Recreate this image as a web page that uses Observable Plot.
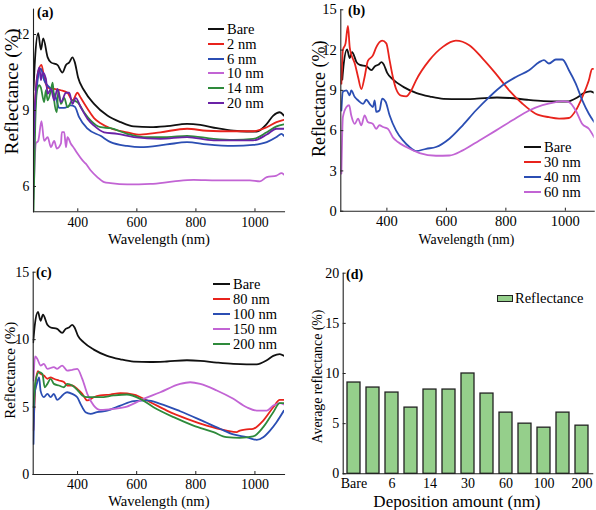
<!DOCTYPE html>
<html><head><meta charset="utf-8">
<script src="https://cdn.jsdelivr.net/npm/d3@7"></script>
<script src="https://cdn.jsdelivr.net/npm/@observablehq/plot@0.6"></script>
<style>
body{margin:0;background:#fff;}
#fig{position:relative;width:596px;height:510px;font-family:"Liberation Serif","DejaVu Serif",serif;color:#000;overflow:hidden;}
.panel{position:absolute;}
.row{position:absolute;display:flex;align-items:center;white-space:nowrap;height:16px;line-height:16px;}
.sw{display:inline-block;height:0;border-top:2.2px solid;margin-right:3px;}
.box{display:inline-block;box-sizing:border-box;border:1.3px solid #222;background:#95cf8b;margin-right:2px;}
.tag{position:absolute;font-weight:bold;font-size:14px;line-height:14px;}
</style></head><body><div id="fig"></div>
<script>
// ---------- data ----------
const xTicks = [400, 600, 800, 1000];
const colors = {black:"#111111", red:"#e8231c", blue:"#2b4eb3", orchid:"#c264d4", green:"#2e8a3b", purple:"#6a22a6"};

const bareWl = [250,255,266,275,283,298,309,331,348,360,371,382,390,401,421,455,500,545,590,646,702,770,815,871,927,972,1006,1040,1062,1084,1098];
const bareR  = [9.8,11.0,12.05,11.4,11.85,11.1,10.9,10.8,10.5,10.8,10.9,11.1,10.9,10.3,9.8,9.26,8.8,8.54,8.37,8.34,8.38,8.47,8.43,8.3,8.2,8.17,8.17,8.47,8.8,8.93,8.8];

// panel (a)
const a2Wl = [250,262,277,286,298,320,343,365,382,399,410,433,455,477,511,567,612,680,770,837,927,994,1040,1073,1098];
const a2R  = [8.3,10.3,10.8,10.3,9.9,9.85,9.8,9.7,9.4,9.7,9.5,9.07,8.7,8.5,8.3,8.14,8.05,8.14,8.28,8.2,8.18,8.18,8.34,8.54,8.63];
const a6Wl = [250,262,275,286,309,326,337,354,376,390,404,433,477,511,567,612,702,770,837,927,994,1040,1073,1090,1098];
const a6R  = [8.0,10.0,10.65,10.2,9.85,9.5,9.1,9.1,9.2,9.15,8.75,8.28,8.0,7.75,7.6,7.55,7.66,7.75,7.66,7.6,7.64,7.75,7.95,8.08,8.0];
const a10Wl = [250,258,266,277,286,298,309,320,329,343,346,354,360,365,376,388,399,416,427,444,466,489,511,567,646,725,792,871,983,1017,1040,1073,1090,1098];
const a10R  = [5.5,7.7,7.8,8.58,7.8,7.95,7.55,7.8,7.5,7.7,8.15,8.15,7.55,7.95,7.7,7.5,7.3,7.03,6.9,6.63,6.37,6.17,6.13,6.08,6.1,6.2,6.26,6.24,6.24,6.2,6.37,6.43,6.53,6.47];
const a14Wl = [250,256,262,270,275,286,292,298,309,315,320,329,334,343,354,365,382,399,421,444,477,511,567,624,702,770,860,927,994,1040,1073,1098];
const a14R  = [5.0,8.5,9.8,10.0,9.9,9.33,9.8,9.4,9.8,10.1,9.4,8.93,9.8,9.26,9.5,9.13,9.4,9.33,8.93,8.6,8.34,8.3,8.08,7.95,7.95,8.0,7.88,7.84,7.88,8.14,8.37,8.45];
const a20Wl = [250,258,270,275,281,292,298,309,320,331,343,360,371,382,393,410,433,455,489,534,590,680,770,860,927,994,1040,1073,1098];
const a20R  = [7.5,9.8,10.7,10.2,10.5,10.25,9.66,9.85,9.4,9.85,9.33,9.7,9.7,9.26,9.5,9.13,8.67,8.4,8.14,8.08,7.95,7.88,7.95,7.82,7.82,7.82,8.05,8.28,8.28];

// panel (b)
const b30Wl = [247,252,261,269,275,280,292,303,314,325,336,353,364,384,398,409,420,431,448,465,482,498,543,588,632,677,722,766,811,856,900,945,979,1012,1035,1057,1079,1090,1097];
const b30R  = [9.5,12.0,12.5,13.8,12.2,11.7,11.0,10.0,9.1,10.0,11.2,11.6,12.2,12.7,12.5,11.25,10.0,9.1,8.6,8.55,9.0,9.75,11.25,12.24,12.7,12.36,11.37,10.25,9.0,8.0,7.26,7.0,6.9,6.94,7.5,8.5,9.75,10.6,10.6];
const b40Wl = [247,252,264,275,280,292,303,320,331,342,353,359,364,375,384,396,409,431,454,476,498,532,565,610,655,699,744,789,834,878,912,928,945,968,990,1012,1035,1057,1079,1097];
const b40R  = [7.5,8.9,9.0,8.63,9.0,8.5,8.26,8.0,8.3,8.0,7.76,8.26,7.4,7.5,8.38,8.13,7.14,6.0,5.27,4.78,4.48,4.65,4.78,5.4,6.4,7.5,8.5,9.38,10.0,10.5,11.1,11.25,11.0,11.3,11.3,10.5,9.5,8.26,7.26,6.64];
const b60Wl = [247,252,264,273,280,292,303,314,325,336,353,364,375,387,403,420,437,465,510,565,610,655,711,766,822,878,923,968,990,1012,1035,1057,1079,1097];
const b60R  = [2.8,7.0,7.76,7.9,7.14,6.5,6.9,6.4,7.14,6.64,6.5,6.14,6.4,6.27,6.14,5.5,5.15,4.78,4.33,4.13,4.15,4.53,5.27,6.0,6.77,7.5,7.9,8.13,8.2,8.13,7.5,6.5,6.14,5.5];

// panel (c)
const c80Wl = [251,258,266,275,286,298,309,320,337,354,365,382,399,416,433,455,477,511,545,590,646,702,770,837,904,938,949,972,994,1028,1062,1084,1098];
const c80R  = [3.3,6.7,7.66,7.46,7.34,7.1,7.2,7.1,6.97,6.85,6.6,6.6,6.35,5.98,5.49,5.73,5.86,5.93,6.03,5.93,5.36,4.74,4.13,3.63,3.26,3.14,3.26,3.34,3.39,4.0,4.99,5.53,5.53];
const c100Wl = [251,255,262,270,275,286,298,309,320,331,343,354,365,382,399,410,427,444,466,500,545,590,635,680,747,815,882,927,972,1006,1028,1051,1073,1098];
const c100R  = [2.27,6.0,6.7,7.2,6.2,5.73,5.98,5.73,5.98,5.53,5.73,5.98,6.1,5.98,5.73,5.24,4.62,4.5,4.62,4.74,5.11,5.44,5.49,5.24,4.69,4.05,3.39,2.97,2.77,2.57,2.77,3.26,3.88,4.74];
const c150Wl = [251,256,264,275,286,298,320,331,348,365,382,399,416,433,455,477,522,567,612,680,747,781,815,871,927,972,1006,1040,1062,1084,1098];
const c150R  = [6.97,8.75,8.57,8.08,8.2,7.83,7.96,7.83,8.08,7.7,7.76,7.83,7.09,5.98,5.11,4.79,4.87,5.04,5.49,6.1,6.72,6.84,6.72,6.23,5.61,4.99,4.74,4.74,5.11,5.29,5.19];
const c200Wl = [251,258,270,281,289,298,309,320,337,354,365,382,399,416,433,477,522,567,612,657,725,792,860,904,949,994,1028,1062,1084,1098];
const c200R  = [5.0,6.97,7.59,7.46,6.47,6.72,7.09,6.72,6.6,6.47,6.72,6.6,6.28,5.86,5.73,5.73,5.86,5.93,5.61,4.99,4.25,3.63,3.14,2.77,2.72,2.82,3.51,4.62,5.29,5.29];

// panel (d)
const depCats = ["Bare","2","6","10","14","20","30","40","60","80","100","150","200"];
const depVals = [9.1,8.6,8.1,6.6,8.4,8.4,10.0,8.0,6.1,5.0,4.6,6.1,4.8];
const depTickLabels = ["Bare","6","14","30","60","100","200"];

const seriesA = [
  {name:"Bare", color:colors.black, wl:bareWl, r:bareR},
  {name:"2 nm", color:colors.red, wl:a2Wl, r:a2R},
  {name:"6 nm", color:colors.blue, wl:a6Wl, r:a6R},
  {name:"10 nm", color:colors.orchid, wl:a10Wl, r:a10R},
  {name:"14 nm", color:colors.green, wl:a14Wl, r:a14R},
  {name:"20 nm", color:colors.purple, wl:a20Wl, r:a20R}
];
const seriesB = [
  {name:"Bare", color:colors.black, wl:bareWl, r:bareR},
  {name:"30 nm", color:colors.red, wl:b30Wl, r:b30R},
  {name:"40 nm", color:colors.blue, wl:b40Wl, r:b40R},
  {name:"60 nm", color:colors.orchid, wl:b60Wl, r:b60R}
];
const seriesC = [
  {name:"Bare", color:colors.black, wl:bareWl, r:bareR},
  {name:"80 nm", color:colors.red, wl:c80Wl, r:c80R},
  {name:"100 nm", color:colors.blue, wl:c100Wl, r:c100R},
  {name:"150 nm", color:colors.orchid, wl:c150Wl, r:c150R},
  {name:"200 nm", color:colors.green, wl:c200Wl, r:c200R}
];

// ---------- drawing ----------
const fig = document.getElementById("fig");
const SERIF = '"Liberation Serif","DejaVu Serif",serif';
const AX = "#222";

function place(node, left, top) {
  const d = document.createElement("div");
  d.className = "panel";
  d.style.left = left + "px"; d.style.top = top + "px";
  d.appendChild(node); fig.appendChild(d);
}

function yTitle(text, o) {
  return Plot.text([text], {text: d => d, frameAnchor: "left", textAnchor: "middle", lineAnchor: "middle",
    rotate: -90, dx: o.ylDx, dy: o.ylDy, fontSize: o.ylFs});
}
function xTitle(text, o) {
  return Plot.text([text], {text: d => d, frameAnchor: "bottom", textAnchor: "middle", lineAnchor: "middle",
    dx: o.xlDx, dy: o.xlDy, fontSize: o.xlFs});
}

function curvePanel(o) {
  const rows = o.series.flatMap(s => s.wl.map((w, i) => ({name: s.name, wl: w, r: s.r[i]})));
  const innerW = o.width - o.mL - o.mR, innerH = o.height - o.mT - o.mB;
  const svg = Plot.plot({
    width: o.width, height: o.height,
    marginLeft: o.mL, marginRight: o.mR, marginTop: o.mT, marginBottom: o.mB,
    style: {fontFamily: SERIF, fontSize: o.fs + "px", color: "#000", background: "transparent", overflow: "visible"},
    x: {domain: o.xDomain},
    y: {domain: o.yDomain},
    color: {domain: o.series.map(s => s.name), range: o.series.map(s => s.color)},
    marks: [
      Plot.line(rows, {x: "wl", y: "r", z: "name", stroke: "name", strokeWidth: 1.8, curve: "monotone-x", clip: true}),
      Plot.frame({anchor: "left", stroke: AX, strokeWidth: 1.1}),
      Plot.frame({anchor: "bottom", stroke: AX, strokeWidth: 1.1}),
      Plot.tickX(xTicks, {x: d => d, insetTop: innerH - 3, stroke: AX}),
      Plot.tickY(o.yTicks, {y: d => d, insetRight: innerW - 3, stroke: AX}),
      Plot.axisX({ticks: xTicks, tickSize: 0, tickPadding: 5, tickFormat: d => String(d), label: null}),
      Plot.axisY({ticks: o.yTicks, tickSize: 0, tickPadding: 4, tickFormat: d => String(d), label: null}),
      yTitle("Reflectance (%)", o),
      xTitle("Wavelength (nm)", o)
    ]
  });
  place(svg, o.left, o.top);
}

curvePanel({left: 0, top: 0, width: 298, height: 250, mL: 33, mR: 14, mT: 8.7, mB: 38.7,
  xDomain: [250, 1100], yDomain: [5, 13], yTicks: [6, 9, 12], series: seriesA, fs: 13.8,
  ylDx: -22, ylDy: -19, ylFs: 19.5, xlDx: 0, xlDy: 27, xlFs: 14.7});
curvePanel({left: 298, top: 0, width: 298, height: 250, mL: 42.3, mR: 2.3, mT: 9.3, mB: 39.3,
  xDomain: [245, 1097], yDomain: [0, 15], yTicks: [0, 3, 6, 9, 12, 15], series: seriesB, fs: 14.5,
  ylDx: -21.3, ylDy: -11.7, ylFs: 18, xlDx: -1, xlDy: 28, xlFs: 13.8});
curvePanel({left: 0, top: 250, width: 298, height: 260, mL: 32.7, mR: 14, mT: 21.7, mB: 36,
  xDomain: [250, 1100], yDomain: [0, 15], yTicks: [0, 5, 10, 15], series: seriesC, fs: 14,
  ylDx: -23.5, ylDy: -3, ylFs: 15, xlDx: 0, xlDy: 27, xlFs: 14.6});

// panel (d)
(function () {
  const o = {width: 298, height: 260, mL: 44.7, mR: 3.8, mT: 22.7, mB: 36.7,
    ylDx: -25.7, ylDy: 3, ylFs: 13.8, xlDx: -11, xlDy: 27.5, xlFs: 17};
  const innerW = o.width - o.mL - o.mR;
  const rows = depCats.map((c, i) => ({cat: c, val: depVals[i]}));
  const yTicks = [0, 5, 10, 15, 20];
  const svg = Plot.plot({
    width: o.width, height: o.height, marginLeft: o.mL, marginRight: o.mR, marginTop: o.mT, marginBottom: o.mB,
    style: {fontFamily: SERIF, fontSize: "14px", color: "#000", background: "transparent", overflow: "visible"},
    x: {domain: depCats, paddingInner: 0.32, paddingOuter: 0.15},
    y: {domain: [0, 20]},
    marks: [
      Plot.barY(rows, {x: "cat", y: "val", fill: "#95cf8b", stroke: "#222", strokeWidth: 1.3}),
      Plot.frame({anchor: "left", stroke: AX, strokeWidth: 1.1}),
      Plot.frame({anchor: "bottom", stroke: AX, strokeWidth: 1.1}),
      Plot.tickY(yTicks, {y: d => d, insetRight: innerW - 3, stroke: AX}),
      Plot.axisX({ticks: depTickLabels, tickSize: 0, tickPadding: 4, label: null}),
      Plot.axisY({ticks: yTicks, tickSize: 0, tickPadding: 4, tickFormat: d => String(d), label: null}),
      yTitle("Average reflectance (%)", o),
      xTitle("Deposition amount (nm)", o)
    ]
  });
  place(svg, 298, 250);
})();

// ---------- legends & panel tags ----------
function lineLegend(series, x, y0, step, len, fs) {
  series.forEach((s, i) => {
    const row = document.createElement("div");
    row.className = "row";
    row.style.left = x + "px";
    row.style.top = (y0 + i * step - 8) + "px";
    row.style.fontSize = fs + "px";
    const sw = document.createElement("span");
    sw.className = "sw"; sw.style.width = len + "px"; sw.style.borderTopColor = s.color;
    const t = document.createElement("span"); t.textContent = s.name;
    row.appendChild(sw); row.appendChild(t); fig.appendChild(row);
  });
}
lineLegend(seriesA, 208, 29, 14.8, 16, 14.5);
lineLegend(seriesB, 524, 147, 15, 17, 14.5);
lineLegend(seriesC, 213, 284, 15, 17, 14.5);
(function () {
  const row = document.createElement("div");
  row.className = "row"; row.style.left = "497px"; row.style.top = (298 - 8) + "px"; row.style.fontSize = "14.5px";
  const b = document.createElement("span"); b.className = "box"; b.style.width = "16px"; b.style.height = "7px";
  const t = document.createElement("span"); t.textContent = "Reflectance";
  row.appendChild(b); row.appendChild(t); fig.appendChild(row);
})();
const tags = [["(a)", 37, 5.5], ["(b)", 348, 4], ["(c)", 36, 266], ["(d)", 346, 267.5]];
tags.forEach(([s, x, y]) => {
  const d = document.createElement("div"); d.className = "tag";
  d.style.left = x + "px"; d.style.top = y + "px"; d.textContent = s; fig.appendChild(d);
});
</script></body></html>
